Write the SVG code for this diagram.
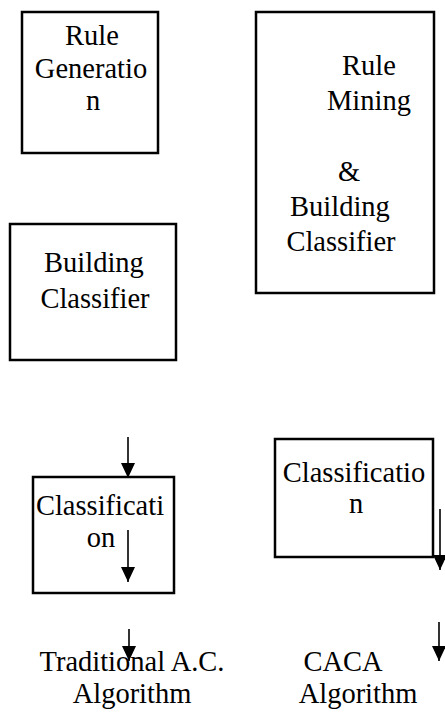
<svg xmlns="http://www.w3.org/2000/svg" width="445" height="714" viewBox="0 0 445 714">
  <style>
    .box { fill: #ffffff; stroke: #000000; stroke-width: 2.5; }
    .lbl { font-family: 'Liberation Serif', 'Times New Roman', 'DejaVu Serif', Times, serif; font-size: 28.5px; fill: #000000; text-anchor: middle; }
    .arrow { stroke: #000000; stroke-width: 1.6; fill: none; marker-end: url(#head); }
  </style>
  <defs>
    <marker id="head" viewBox="0 0 15 14" refX="15" refY="7" markerWidth="15" markerHeight="14" orient="auto" markerUnits="userSpaceOnUse">
      <path d="M0,0 L15,7 L0,14 z" fill="#000000"/>
    </marker>
  </defs>
  <rect width="445" height="714" fill="#ffffff"/>

  <g font-family="Liberation Serif, Times New Roman, serif">
    <!-- top left: rule generation -->
    <g id="rule-generation">
      <rect class="box" x="22" y="12" width="136" height="141"/>
      <text class="lbl" x="92" y="45">Rule</text>
      <text class="lbl" x="91" y="78">Generatio</text>
      <text class="lbl" x="93" y="110">n</text>
    </g>

    <!-- top right: rule mining and classifier building -->
    <g id="rule-mining">
      <rect class="box" x="256" y="12" width="178" height="281"/>
      <text class="lbl" x="369" y="75">Rule</text>
      <text class="lbl" x="369" y="110">Mining</text>
      <text class="lbl" x="349" y="181">&amp;</text>
      <text class="lbl" x="340" y="216">Building</text>
      <text class="lbl" x="341" y="251">Classifier</text>
    </g>

    <!-- middle left: classifier building -->
    <g id="building-classifier">
      <rect class="box" x="10" y="224" width="166" height="136"/>
      <text class="lbl" x="94" y="272">Building</text>
      <text class="lbl" x="95" y="308">Classifier</text>
    </g>

    <!-- lower left: classification -->
    <g id="classification-left">
      <rect class="box" x="33" y="477" width="141" height="116"/>
      <text class="lbl" x="100" y="515">Classificati</text>
      <text class="lbl" x="101" y="547">on</text>
    </g>

    <!-- lower right: classification -->
    <g id="classification-right">
      <rect class="box" x="275" y="439" width="158" height="118"/>
      <text class="lbl" x="354" y="482">Classificatio</text>
      <text class="lbl" x="356" y="513">n</text>
    </g>

    <!-- bottom captions -->
    <g id="traditional-ac">
      <text class="lbl" x="132" y="671">Traditional A.C.</text>
      <text class="lbl" x="132" y="703">Algorithm</text>
    </g>
    <g id="caca">
      <text class="lbl" x="343" y="671">CACA</text>
      <text class="lbl" x="358" y="703">Algorithm</text>
    </g>
  </g>

  <!-- connectors -->
  <g id="connectors">
    <line class="arrow" x1="128" y1="437" x2="128" y2="478"/>
    <line class="arrow" x1="128" y1="530" x2="128" y2="582"/>
    <line class="arrow" x1="129" y1="629" x2="129" y2="661"/>
    <line class="arrow" x1="440" y1="509" x2="440" y2="570"/>
    <line class="arrow" x1="439" y1="622" x2="439" y2="661"/>
  </g>
</svg>
